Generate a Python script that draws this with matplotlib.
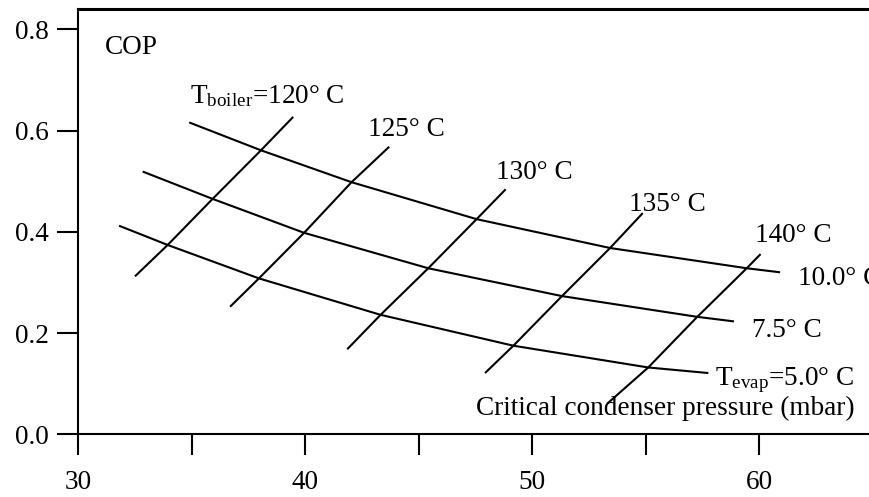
import matplotlib
matplotlib.use("Agg")
import matplotlib.pyplot as plt

plt.rcParams["font.family"] = ["Liberation Serif", "DejaVu Serif"]
plt.rcParams["mathtext.fontset"] = "custom"
plt.rcParams["mathtext.rm"] = "Liberation Serif"
plt.rcParams["mathtext.it"] = "Liberation Serif:italic"

# Operating grid: boiler temperatures (rows) x evaporator temperatures (columns)
boiler_temps = [120, 125, 130, 135, 140]
evap_temps = [5.0, 7.5, 10.0]

# Critical condenser pressure (mbar) at each boiler/evaporator combination
pressure = [
    [33.95, 35.93, 38.06],
    [37.97, 39.96, 42.05],
    [43.33, 45.43, 47.56],
    [49.18, 51.32, 53.44],
    [55.12, 57.28, 59.46],
]
# COP at each boiler/evaporator combination
cop = [
    [0.374, 0.465, 0.561],
    [0.308, 0.398, 0.498],
    [0.236, 0.328, 0.425],
    [0.175, 0.273, 0.368],
    [0.132, 0.232, 0.328],
]

# Extensions of each evaporator curve beyond the boiler lines (pressure, COP)
evap_start_p = [31.81, 32.85, 34.90]
evap_start_cop = [0.412, 0.519, 0.616]
evap_end_p = [57.77, 58.90, 60.93]
evap_end_cop = [0.121, 0.223, 0.320]

# Extensions of each boiler line beyond the evaporator curves (pressure, COP)
boiler_low_p = [32.51, 36.70, 41.86, 47.93, 53.30]
boiler_low_cop = [0.312, 0.252, 0.168, 0.121, 0.060]
boiler_high_p = [39.48, 43.71, 48.84, 54.88, 60.07]
boiler_high_cop = [0.627, 0.568, 0.484, 0.437, 0.356]

x_ticks = [30, 40, 50, 60]
x_minor = [35, 45, 55]
y_ticks = [0.0, 0.2, 0.4, 0.6, 0.8]

W, H = 869, 497
fig = plt.figure(figsize=(W / 100, H / 100), dpi=100)
ax = fig.add_axes([78 / W, (H - 434.3) / H, 1.0 - 78 / W, (434.3 - 8.5) / H])

lw = 1.5
for j, te in enumerate(evap_temps):
    xs = [evap_start_p[j]] + [pressure[i][j] for i in range(len(boiler_temps))] + [evap_end_p[j]]
    ys = [evap_start_cop[j]] + [cop[i][j] for i in range(len(boiler_temps))] + [evap_end_cop[j]]
    ax.plot(xs, ys, color="black", lw=lw, solid_capstyle="butt", solid_joinstyle="round")

for i, tb in enumerate(boiler_temps):
    xs = [boiler_low_p[i]] + pressure[i] + [boiler_high_p[i]]
    ys = [boiler_low_cop[i]] + cop[i] + [boiler_high_cop[i]]
    ax.plot(xs, ys, color="black", lw=lw, solid_capstyle="butt", solid_joinstyle="round")

fs = 19.6
# Boiler temperature labels
ax.text(34.93, 0.655, r"$\mathrm{T}_{\mathrm{boiler}}$" + f"={boiler_temps[0]}° C", fontsize=fs)
boiler_label_pos = [(42.78, 0.590), (48.40, 0.504), (54.27, 0.442), (59.82, 0.380)]
for tb, (lx, ly) in zip(boiler_temps[1:], boiler_label_pos):
    ax.text(lx, ly, f"{tb}° C", fontsize=fs)

# Evaporator temperature labels
ax.text(61.73, 0.295, f"{evap_temps[2]:.1f}° C", fontsize=fs)
ax.text(59.68, 0.193, f"{evap_temps[1]:.1f}° C", fontsize=fs)
ax.text(58.06, 0.097, r"$\mathrm{T}_{\mathrm{evap}}$" + f"={evap_temps[0]:.1f}° C", fontsize=fs)

ax.text(47.53, 0.038, "Critical condenser pressure (mbar)", fontsize=fs)
ax.text(31.19, 0.751, "COP", fontsize=fs)

ax.set_xlim(30, 30 + (W - 78) / 22.7)
ax.set_ylim(0.0, 0.8 + (29.3 - 8.5) / 506)
ax.set_xticks(x_ticks)
ax.set_xticks(x_minor, minor=True)
ax.set_yticks(y_ticks)
ax.set_yticklabels([f"{v:.1f}" for v in y_ticks])

ax.tick_params(which="both", direction="out", length=15, width=1.5, labelsize=fs)
ax.tick_params(axis="x", pad=11)
ax.tick_params(axis="y", pad=6)
ax.spines["right"].set_visible(False)
for s in ("left", "bottom"):
    ax.spines[s].set_linewidth(1.5)
ax.spines["top"].set_linewidth(2.2)

fig.savefig("out.png", dpi=100)
